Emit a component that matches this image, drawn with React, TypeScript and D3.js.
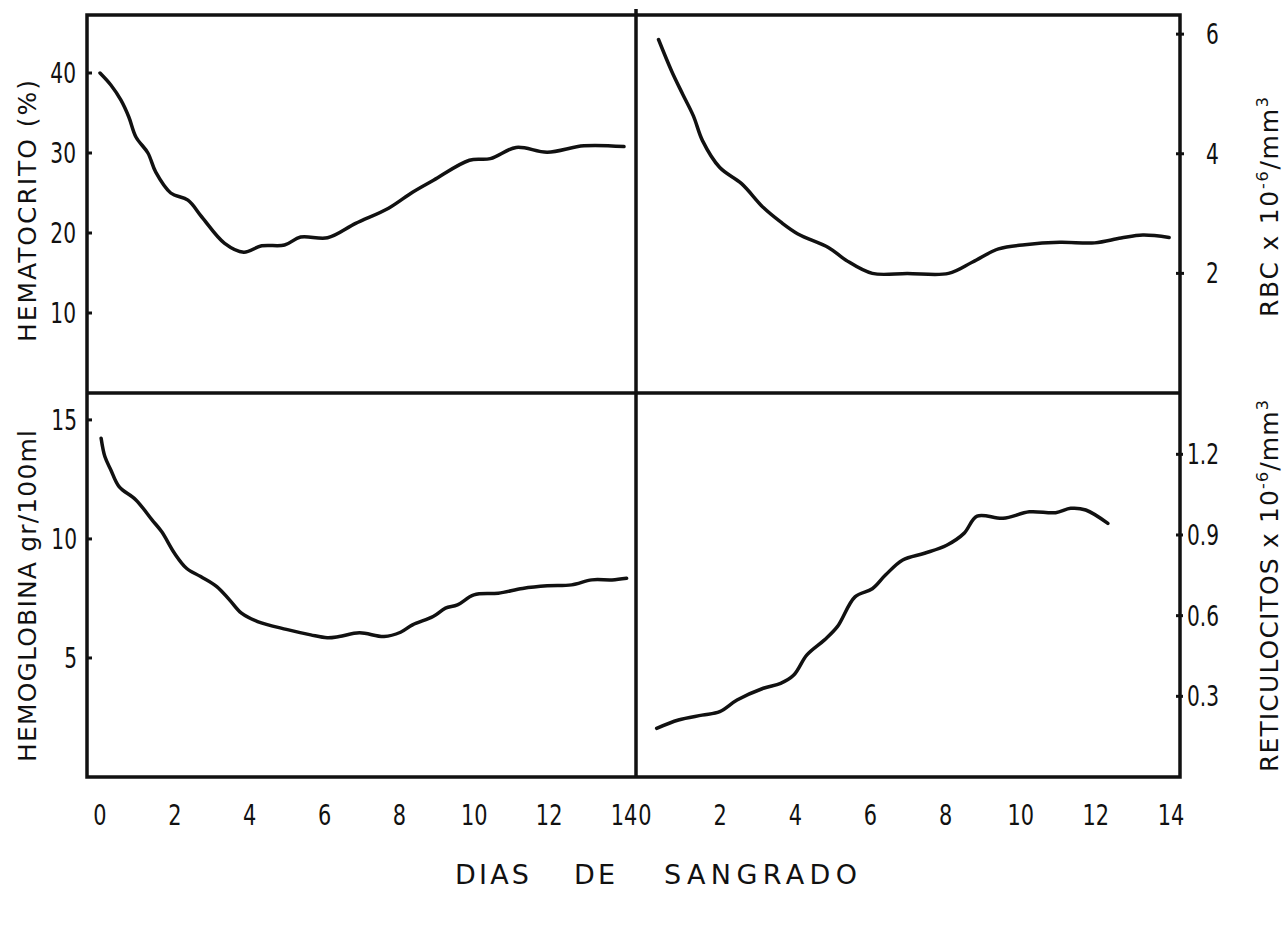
import React from "react";
import * as d3 from "d3";

const width = 1285;
const height = 928;

// Hematocrito (%), top left
const hctDays = [0, 0.29, 0.56, 0.77, 0.96, 1.28, 1.49, 1.89, 2.35, 2.72, 3.33, 3.84, 4.32, 4.93, 5.36, 6.08, 6.83, 7.71, 8.35, 8.91, 9.87, 10.43, 11.12, 11.95, 12.93, 14];
const hctVals = [40.0, 38.5, 36.6, 34.5, 32.0, 30.0, 27.6, 25.0, 24.1, 22.0, 18.7, 17.6, 18.4, 18.5, 19.5, 19.4, 21.2, 23.1, 25.1, 26.6, 29.1, 29.3, 30.7, 30.1, 30.9, 30.8];

// RBC x 10^6/mm3, top right
const rbcDays = [0.36, 0.71, 1.0, 1.29, 1.53, 1.99, 2.57, 3.15, 3.61, 4.07, 4.89, 5.35, 6.05, 6.98, 8.08, 8.72, 9.41, 10.11, 11.04, 11.97, 12.67, 13.25, 13.95];
const rbcVals = [5.91, 5.38, 5.0, 4.63, 4.22, 3.77, 3.5, 3.1, 2.86, 2.66, 2.43, 2.22, 2.0, 2.0, 2.0, 2.19, 2.41, 2.48, 2.52, 2.51, 2.59, 2.64, 2.6];

// Hemoglobina gr/100ml, bottom left
const hgbDays = [0.03, 0.13, 0.29, 0.51, 0.96, 1.39, 1.65, 1.99, 2.31, 2.69, 3.12, 3.46, 3.78, 4.21, 4.98, 5.63, 6.07, 6.39, 6.93, 7.59, 8.03, 8.35, 8.9, 9.23, 9.55, 9.99, 10.64, 11.29, 11.95, 12.6, 13.14, 13.68, 14.07];
const hgbVals = [14.23, 13.46, 12.9, 12.2, 11.64, 10.8, 10.3, 9.4, 8.77, 8.42, 8.0, 7.44, 6.88, 6.53, 6.2, 5.97, 5.85, 5.9, 6.06, 5.9, 6.08, 6.39, 6.74, 7.09, 7.23, 7.65, 7.72, 7.92, 8.03, 8.07, 8.28, 8.28, 8.35];

// Reticulocitos x 10^6/mm3, bottom right
const retDays = [0.31, 0.89, 1.52, 1.99, 2.45, 3.15, 3.61, 3.96, 4.31, 4.77, 5.12, 5.59, 6.05, 6.4, 6.86, 7.44, 8.03, 8.49, 8.84, 9.53, 10.23, 10.93, 11.33, 11.73, 12.32];
const retVals = [0.181, 0.212, 0.23, 0.243, 0.286, 0.33, 0.348, 0.379, 0.454, 0.509, 0.559, 0.67, 0.70, 0.751, 0.807, 0.832, 0.862, 0.906, 0.97, 0.962, 0.986, 0.983, 0.999, 0.993, 0.943];

const dayTicks = [0, 2, 4, 6, 8, 10, 12, 14];
const hctTicks = [10, 20, 30, 40];
const hgbTicks = [5, 10, 15];
const rbcTicks = [2, 4, 6];
const retTicks = [0.3, 0.6, 0.9, 1.2];
const xTitleWords = ["DIAS", "DE", "SANGRADO"];
const xTitleStarts = [455, 574, 664];
const xTitleLengths = [74, 41, 193];

const frame = { left: 87, right: 1180, top: 15, mid: 393, bottom: 777, split: 636 };
const font = "'DejaVu Sans', sans-serif";

const xLeft = d3.scaleLinear().domain([0, 14]).range([100, 624]);
const xRight = d3.scaleLinear().domain([0, 14]).range([645, 1171]);
const yHct = d3.scaleLinear().domain([0, 47.25]).range([frame.mid, frame.top]);
const yHgb = d3.scaleLinear().domain([0, 16.13]).range([frame.bottom, frame.mid]);
const yRbc = d3.scaleLinear().domain([0, 6.32]).range([frame.mid, frame.top]);
const yRet = d3.scaleLinear().domain([0, 1.428]).range([frame.bottom, frame.mid]);

const curvePath = (days: number[], vals: number[], x: any, y: any) =>
  d3
    .line<number>()
    .x((d, i) => x(days[i]))
    .y((d) => y(d))
    .curve(d3.curveCatmullRom.alpha(0.5))(vals) as string;

// narrow plotter-like lettering
const Narrow = ({ x, y, anchor, size, sx = 0.72, children }: any) => (
  <text
    transform={`translate(${x},${y}) scale(${sx},1)`}
    textAnchor={anchor}
    fontSize={size}
    fontFamily={font}
    fill="#111"
  >
    {children}
  </text>
);

const App = () => {
  const fmt1 = d3.format(".1f");
  return (
    <svg
      width={width}
      height={height}
      viewBox={`0 0 ${width} ${height}`}
      style={{ position: "absolute", left: 0, top: 0, background: "#fff" }}
    >
      {/* frame and dividers */}
      <g stroke="#111" strokeWidth={3.5} fill="none">
        <rect
          x={frame.left}
          y={frame.top}
          width={frame.right - frame.left}
          height={frame.bottom - frame.top}
        />
        <line x1={frame.left} x2={frame.right} y1={frame.mid} y2={frame.mid} />
        <line x1={frame.split} x2={frame.split} y1={frame.top - 6} y2={frame.bottom} />
      </g>

      {/* axis ticks */}
      <g stroke="#111" strokeWidth={3}>
        {hctTicks.map((t) => (
          <line key={"h" + t} x1={frame.left} x2={frame.left + 5} y1={yHct(t)} y2={yHct(t)} />
        ))}
        {hgbTicks.map((t) => (
          <line key={"g" + t} x1={frame.left} x2={frame.left + 5} y1={yHgb(t)} y2={yHgb(t)} />
        ))}
        {rbcTicks.map((t) => (
          <line key={"r" + t} x1={frame.right - 4} x2={frame.right + 4} y1={yRbc(t)} y2={yRbc(t)} />
        ))}
        {retTicks.map((t) => (
          <line key={"t" + t} x1={frame.right - 4} x2={frame.right + 3} y1={yRet(t)} y2={yRet(t)} />
        ))}
      </g>

      {/* tick labels */}
      {hctTicks.map((t) => (
        <Narrow key={"hl" + t} x={76} y={yHct(t) + 10} anchor="end" size={28}>
          {t}
        </Narrow>
      ))}
      {hgbTicks.map((t) => (
        <Narrow key={"gl" + t} x={77} y={yHgb(t) + 10} anchor="end" size={28}>
          {t}
        </Narrow>
      ))}
      {rbcTicks.map((t) => (
        <Narrow key={"rl" + t} x={1206} y={yRbc(t) + 10} anchor="start" size={28}>
          {t}
        </Narrow>
      ))}
      {retTicks.map((t) => (
        <Narrow key={"tl" + t} x={1187} y={yRet(t) + 10} anchor="start" size={28}>
          {fmt1(t)}
        </Narrow>
      ))}
      {dayTicks.map((t) => (
        <Narrow key={"xl" + t} x={xLeft(t)} y={825} anchor="middle" size={29}>
          {t}
        </Narrow>
      ))}
      {dayTicks.map((t) => (
        <Narrow key={"xr" + t} x={xRight(t)} y={825} anchor="middle" size={29}>
          {t}
        </Narrow>
      ))}

      {/* curves */}
      <g fill="none" stroke="#111" strokeWidth={3.5} strokeLinecap="round" strokeLinejoin="round">
        <path d={curvePath(hctDays, hctVals, xLeft, yHct)} />
        <path d={curvePath(rbcDays, rbcVals, xRight, yRbc)} />
        <path d={curvePath(hgbDays, hgbVals, xLeft, yHgb)} />
        <path d={curvePath(retDays, retVals, xRight, yRet)} />
      </g>

      {/* axis titles */}
      <g fontFamily={font} fontSize={25} fill="#111">
        <text transform="translate(36,342) rotate(-90)" textLength={262} lengthAdjust="spacing">
          HEMATOCRITO  (%)
        </text>
        <text transform="translate(36,762) rotate(-90)" textLength={332} lengthAdjust="spacing">
          HEMOGLOBINA gr/100ml
        </text>
        <text transform="translate(1278,317) rotate(-90)" textLength={220} lengthAdjust="spacing">
          RBC x 10
          <tspan fontSize={16} dy={-10}>-6</tspan>
          <tspan dy={10}>/mm</tspan>
          <tspan fontSize={16} dy={-10}>3</tspan>
        </text>
        <text transform="translate(1278,772) rotate(-90)" textLength={372} lengthAdjust="spacing">
          RETICULOCITOS x 10
          <tspan fontSize={16} dy={-10}>-6</tspan>
          <tspan dy={10}>/mm</tspan>
          <tspan fontSize={16} dy={-10}>3</tspan>
        </text>
        {xTitleWords.map((w, i) => (
          <text
            key={w}
            x={xTitleStarts[i]}
            y={884}
            fontSize={27}
            textLength={xTitleLengths[i]}
            lengthAdjust="spacing"
          >
            {w}
          </text>
        ))}
      </g>
    </svg>
  );
};

export default App;
